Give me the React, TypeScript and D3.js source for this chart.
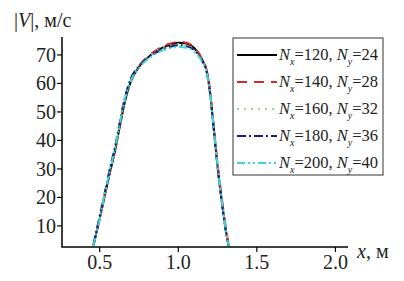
import { useMemo } from "react"
import * as d3 from 'd3'

// grid resolutions shown in legend
const nx = [120, 140, 160, 180, 200]
const ny = [24, 28, 32, 36, 40]
const colors = ["#000000", "#d42a2a", "#8fdc8f", "#1c1c7a", "#3ad8dc"]
const dashes = ["none", "10,7", "2,5", "9,3,2,3", "8,3,2,3,2,3"]

const xs = [0.46, 0.5, 0.53, 0.56, 0.6, 0.63, 0.66, 0.7, 0.75, 0.8, 0.85, 0.9, 0.95, 1.0, 1.05, 1.1, 1.15, 1.18, 1.2, 1.22, 1.25, 1.28, 1.3, 1.32]

const v120 = [3, 12.5, 20, 27.5, 37, 45.5, 53.5, 61, 65.8, 68.8, 71, 72.6, 73.6, 74.3, 74, 72.5, 68.5, 64.5, 58, 47.5, 31, 17.5, 9.5, 3]
const v140 = [3, 12.8, 20.5, 28, 37.5, 46.5, 54.5, 61.5, 66.2, 69.2, 71.3, 73, 74, 74.6, 74.3, 72.8, 68.8, 64.8, 58.5, 48, 32, 18.5, 10.5, 3.5]
const v160 = [3, 12.6, 20.2, 27.7, 37.2, 46, 54, 61.2, 66, 69, 71, 72.5, 73.3, 73.8, 73.4, 72, 68.2, 64.3, 58, 47.5, 31, 17.5, 9.5, 3]
const v180 = [3.5, 13.5, 21, 29, 38.5, 47, 55, 62, 66, 68.6, 70.6, 72, 72.9, 73.4, 73.1, 71.7, 68, 64.2, 57.5, 47, 30.5, 17, 9, 3]
const v200 = [3, 12.8, 20.6, 28.4, 38, 46.5, 54.5, 61.2, 65.5, 68.2, 70.2, 71.6, 72.4, 72.8, 72.5, 71.2, 67.8, 64, 57.7, 47.3, 31, 17.5, 9.5, 3]
const series = [v120, v140, v160, v180, v200]

const xTicks = [0.5, 1.0, 1.5, 2.0]
const yTicks = [10, 20, 30, 40, 50, 60, 70]

const App = () => {
  const x = d3.scaleLinear().domain([0.26, 2.08]).range([62, 348])
  const y = d3.scaleLinear().domain([2.6, 76.3]).range([247, 37])

  const line = useMemo(() => d3.line<number>()
    .x((_, i) => x(xs[i]))
    .y(d => y(d))
    .curve(d3.curveMonotoneX), [])

  const font = "'Liberation Serif', 'Times New Roman', serif"

  return (
    <div style={{ position: "fixed", left: 0, top: 0 }}>
      <svg width={404} height={281} style={{ display: "block", background: "#fff" }} fontFamily={font}>
        {series.map((s, i) => (
          <path key={i} d={line(s) ?? ""} fill="none" stroke={colors[i]}
            strokeWidth={2} strokeDasharray={dashes[i]} />
        ))}

        {/* axes */}
        <path d={`M ${x.range()[0]} ${y.range()[1]} V ${y.range()[0]} H ${x.range()[1]}`}
          fill="none" stroke="#000" strokeWidth={1.5} />
        {yTicks.map(t => (
          <g key={t} transform={`translate(62, ${y(t)})`}>
            <line x2={-5} stroke="#000" strokeWidth={1.2} />
            <text x={-6} dy="0.35em" textAnchor="end" fontSize={20} fill="#222">{t}</text>
          </g>
        ))}
        {xTicks.map(t => (
          <g key={t} transform={`translate(${x(t)}, 247)`}>
            <line y2={5} stroke="#000" strokeWidth={1.2} />
            <text y={22} textAnchor="middle" fontSize={20} fill="#222">{t.toFixed(1)}</text>
          </g>
        ))}

        <text x={14} y={27} fontSize={20} fill="#222">
          <tspan>|</tspan><tspan fontStyle="italic">V</tspan><tspan>|, м/с</tspan>
        </text>
        <text x={357} y={258} fontSize={20} fill="#222">
          <tspan fontStyle="italic">x</tspan><tspan>, м</tspan>
        </text>

        {/* legend */}
        <rect x={233} y={38} width={150} height={137} fill="#fff" stroke="#555" strokeWidth={1.2} />
        {nx.map((n, i) => {
          const ly = 55 + i * 27
          return (
            <g key={n}>
              <line x1={237} x2={277} y1={ly} y2={ly} stroke={colors[i]} strokeWidth={2}
                strokeDasharray={dashes[i]} />
              <text x={279} y={ly + 5} fontSize={16.5} fill="#222">
                <tspan fontStyle="italic">N</tspan>
                <tspan fontStyle="italic" fontSize={10} dy={5}>x</tspan>
                <tspan dy={-5}>={n}, </tspan>
                <tspan fontStyle="italic">N</tspan>
                <tspan fontStyle="italic" fontSize={10} dy={5}>y</tspan>
                <tspan dy={-5}>={ny[i]}</tspan>
              </text>
            </g>
          )
        })}
      </svg>
    </div>
  )
}

export default App
